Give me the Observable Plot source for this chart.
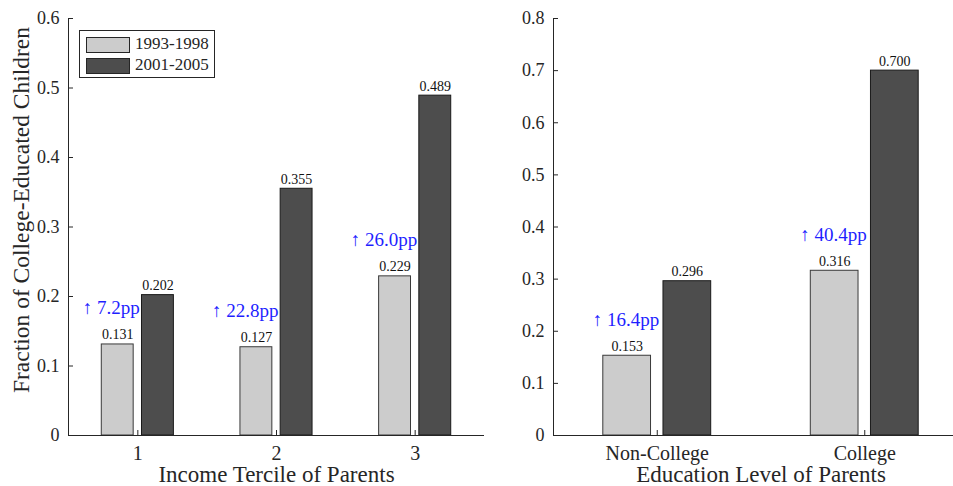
<!DOCTYPE html>
<html>
<head>
<meta charset="utf-8">
<script src="https://cdn.jsdelivr.net/npm/d3@7"></script>
<script src="https://cdn.jsdelivr.net/npm/@observablehq/plot@0.6"></script>
<style>
  html, body { margin: 0; padding: 0; background: #fff; overflow: hidden; }
  #wrap { position: relative; width: 953px; height: 486px; overflow: hidden; background: #fff; font-family: "Liberation Serif", serif; color: #262626; }
  #left, #right { position: absolute; top: 0; height: 486px; }
  #left { left: 0; width: 500px; }
  #right { left: 500px; width: 468px; }
  #left svg, #right svg { max-width: none !important; }
  #legend { position: absolute; left: 79px; top: 30px; width: 134px; height: 46px; border: 1px solid #262626; background: #fff; }
  .item { position: absolute; left: 6px; height: 16px; }
  .sw { position: absolute; left: 0; top: 0; width: 42px; height: 14px; border: 1px solid #262626; }
  .lab { position: absolute; left: 49px; top: -3px; font-size: 17px; white-space: nowrap; line-height: 20px; }
</style>
</head>
<body>
<div id="wrap">
  <div id="left"></div>
  <div id="right"></div>
  <div id="legend"></div>
</div>
<script>
// ---- data ----
const periods = ["1993-1998", "2001-2005"];
const periodColors = ["#cccccc", "#4d4d4d"];

const incomeTerciles = ["1", "2", "3"];
const income1993 = [0.131, 0.127, 0.229];
const income2001 = [0.202, 0.355, 0.489];
const incomeChangePP = [7.2, 22.8, 26.0];

const eduLevels = ["Non-College", "College"];
const edu1993 = [0.153, 0.316];
const edu2001 = [0.296, 0.700];
const eduChangePP = [16.4, 40.4];

const yTicksLeft = [0, 0.1, 0.2, 0.3, 0.4, 0.5, 0.6];
const yTicksRight = [0, 0.1, 0.2, 0.3, 0.4, 0.5, 0.6, 0.7, 0.8];

const yLabel = "Fraction of College-Educated Children";
const xLabelLeft = "Income Tercile of Parents";
const xLabelRight = "Education Level of Parents";

// ---- helpers ----
const BW = 0.23, OFF = 0.145;
const ink = "#262626";
const FONT = '"Liberation Serif", serif';
const fmtTick = d => d === 0 ? "0" : d.toFixed(1);

function rowsFor(cats, a, b) {
  const rows = [];
  cats.forEach((c, i) => {
    rows.push({pos: i + 1, period: periods[0], value: a[i], off: -OFF});
    rows.push({pos: i + 1, period: periods[1], value: b[i], off: OFF});
  });
  return rows;
}

function panel({cats, a, b, changes, yTicks, yMax, xLabel, width, marginLeft, marginRight, showYLabel}) {
  const rows = rowsFor(cats, a, b);
  const ch = cats.map((c, i) => ({pos: i + 1, base: a[i], d: changes[i]}));
  const ticksX = cats.map((c, i) => i + 1);
  const marks = [
    Plot.rect(rows, {
      x1: d => d.pos + d.off - BW / 2,
      x2: d => d.pos + d.off + BW / 2,
      y1: 0, y2: "value",
      fill: "period",
      stroke: d => d.period === periods[0] ? "#3a3a3a" : "#1a1a1a",
      strokeWidth: 1
    }),
    Plot.text(rows, {
      x: d => d.pos + d.off, y: "value",
      text: d => d.value.toFixed(3),
      dy: -5, lineAnchor: "bottom", fontSize: 14, fill: "#111", fontFamily: FONT
    }),
    Plot.text(ch, {
      x: "pos", y: "base",
      text: d => `\u2191 ${d.d.toFixed(1)}pp`,
      textAnchor: "end", dx: 2, dy: -30, lineAnchor: "bottom",
      fontSize: 19, fill: "#1f1fff", fontFamily: FONT
    }),
    Plot.ruleX([0.5], {stroke: ink}),
    Plot.ruleY([0], {stroke: ink}),
    Plot.axisY({ticks: yTicks, tickSize: -5, fill: "none", stroke: ink, label: null}),
    Plot.axisY({ticks: yTicks, tickSize: 0, tickPadding: 9, tickFormat: fmtTick, fontSize: 18, fill: ink, label: null, fontFamily: FONT, fontVariant: "normal"}),
    Plot.axisX({ticks: ticksX, tickSize: -5, fill: "none", stroke: ink, label: null}),
    Plot.axisX({ticks: ticksX, tickSize: 0, tickPadding: 10, tickFormat: i => cats[i - 1], fontSize: 20, fill: ink, label: null, fontFamily: FONT, fontVariant: "normal"}),
    Plot.text([xLabel], {frameAnchor: "bottom", dy: 46, lineAnchor: "bottom", fontSize: 23, fill: ink, fontFamily: FONT})
  ];
  if (showYLabel) {
    marks.push(Plot.text([yLabel], {frameAnchor: "left", textAnchor: "middle", rotate: -90, dx: -40, dy: -17, lineAnchor: "bottom", fontSize: 23.5, fill: ink, fontFamily: FONT}));
  }
  return Plot.plot({
    width, height: 486,
    marginLeft, marginRight, marginTop: 18, marginBottom: 51,
    x: {type: "linear", domain: [0.5, cats.length + 0.5]},
    y: {domain: [0, yMax]},
    color: {domain: periods, range: periodColors},
    style: {fontFamily: FONT, fontSize: "14px", color: ink, background: "transparent", overflow: "visible", maxWidth: "none"},
    marks
  });
}

document.getElementById("left").append(panel({
  cats: incomeTerciles, a: income1993, b: income2001, changes: incomeChangePP,
  yTicks: yTicksLeft, yMax: 0.6, xLabel: xLabelLeft,
  width: 500, marginLeft: 68, marginRight: 16, showYLabel: true
}));
document.getElementById("right").append(panel({
  cats: eduLevels, a: edu1993, b: edu2001, changes: eduChangePP,
  yTicks: yTicksRight, yMax: 0.8, xLabel: xLabelRight,
  width: 468, marginLeft: 53, marginRight: 0, showYLabel: false
}));

// legend
const leg = document.getElementById("legend");
periods.forEach((p, i) => {
  const it = document.createElement("div");
  it.className = "item";
  it.style.top = (6 + i * 20.5) + "px";
  const sw = document.createElement("div");
  sw.className = "sw";
  sw.style.background = periodColors[i];
  const lb = document.createElement("div");
  lb.className = "lab";
  lb.textContent = p;
  it.append(sw, lb);
  leg.append(it);
});
</script>
</body>
</html>
